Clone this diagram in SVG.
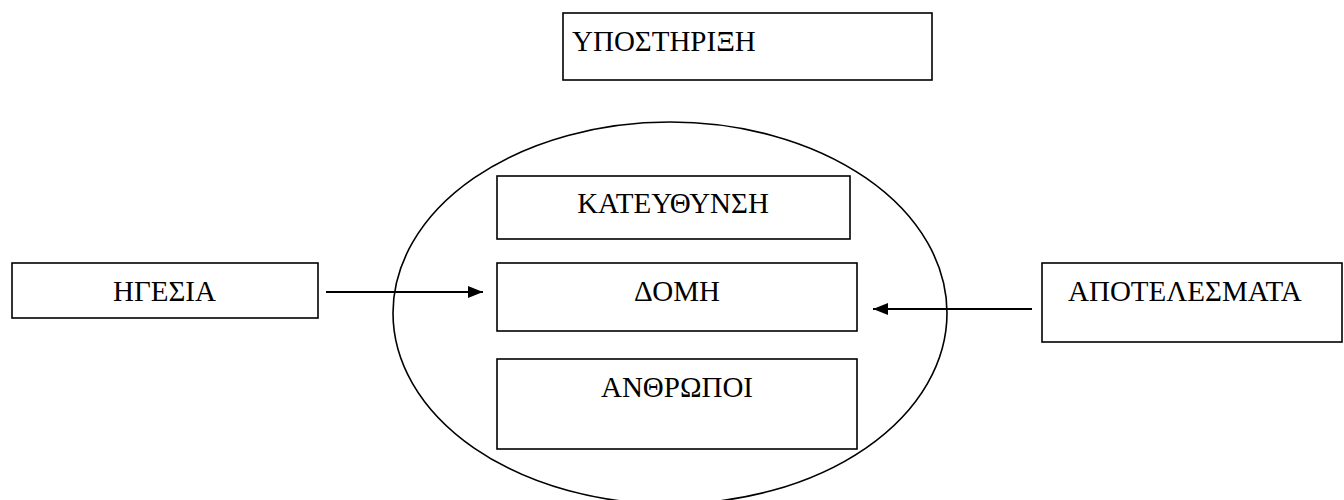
<svg xmlns="http://www.w3.org/2000/svg" width="1344" height="500" viewBox="0 0 1344 500">
<style>
.box{fill:#fff;stroke:#000;stroke-width:1.6}
.lbl{font-size:29px;fill:#000}
.conn{stroke:#000;stroke-width:2;fill:none}
</style>
<defs>
<marker id="ah" markerWidth="16" markerHeight="12" refX="15" refY="6" orient="auto" markerUnits="userSpaceOnUse">
<path d="M0,0 L15,6 L0,12 Z" fill="#000"/>
</marker>
</defs>
<rect width="1344" height="500" fill="#fff"/>
<g font-family="Liberation Serif, Times New Roman, DejaVu Serif, serif">
<g id="support">
<rect class="box" x="563" y="13" width="369" height="67"/>
<text class="lbl" x="572" y="51">ΥΠΟΣΤΗΡΙΞΗ</text>
</g>
<g id="organization">
<ellipse cx="670" cy="313" rx="277" ry="191" fill="none" stroke="#000" stroke-width="1.6"/>
</g>
<g id="direction">
<rect class="box" x="497" y="176" width="353" height="63"/>
<text class="lbl" x="673" y="213" text-anchor="middle">ΚΑΤΕΥΘΥΝΣΗ</text>
</g>
<g id="structure">
<rect class="box" x="497" y="263" width="360" height="68"/>
<text class="lbl" x="677" y="301" text-anchor="middle">ΔΟΜΗ</text>
</g>
<g id="people">
<rect class="box" x="497" y="359" width="360" height="90"/>
<text class="lbl" x="677" y="397" text-anchor="middle">ΑΝΘΡΩΠΟΙ</text>
</g>
<g id="leadership">
<rect class="box" x="12" y="263" width="306" height="55"/>
<text class="lbl" x="113" y="301">ΗΓΕΣΙΑ</text>
</g>
<g id="results">
<rect class="box" x="1042" y="263" width="300" height="79"/>
<text class="lbl" x="1068" y="301">ΑΠΟΤΕΛΕΣΜΑΤΑ</text>
</g>
</g>
<g id="connectors">
<line class="conn" x1="326" y1="292" x2="483" y2="292" marker-end="url(#ah)"/>
<line class="conn" x1="1032" y1="309" x2="873" y2="309" marker-end="url(#ah)"/>
</g>
</svg>
